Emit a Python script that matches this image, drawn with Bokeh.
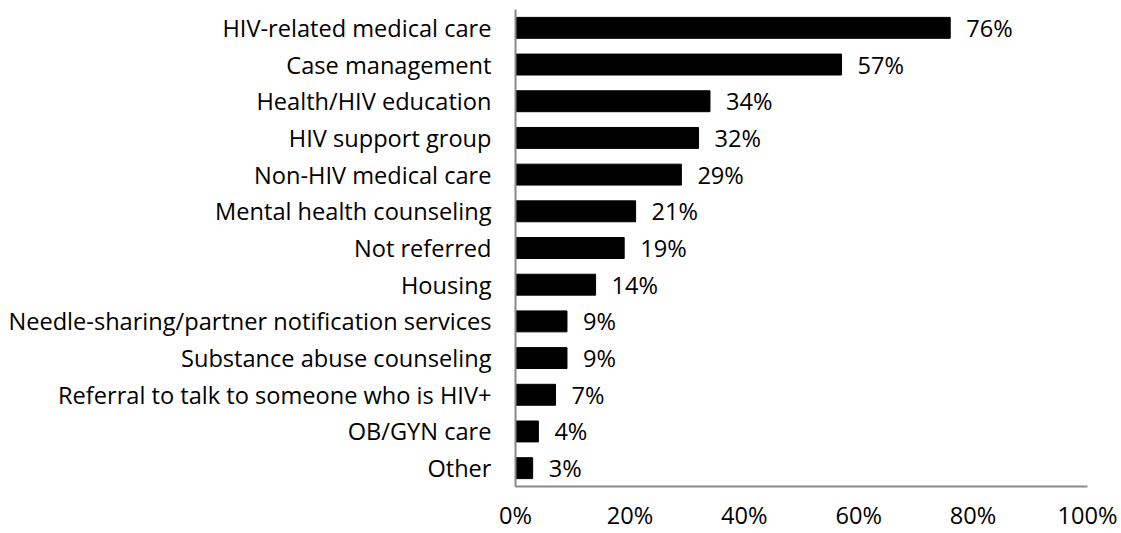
from bokeh.plotting import figure
from bokeh.models import FactorRange, Range1d, NumeralTickFormatter, FixedTicker, ColumnDataSource
from bokeh.core.properties import value
from bokeh.embed import file_html
from bokeh.resources import INLINE

categories = [
    "HIV-related medical care",
    "Case management",
    "Health/HIV education",
    "HIV support group",
    "Non-HIV medical care",
    "Mental health counseling",
    "Not referred",
    "Housing",
    "Needle-sharing/partner notification services",
    "Substance abuse counseling",
    "Referral to talk to someone who is HIV+",
    "OB/GYN care",
    "Other",
]
values = [0.76, 0.57, 0.34, 0.32, 0.29, 0.21, 0.19, 0.14, 0.09, 0.09, 0.07, 0.04, 0.03]
value_labels = ["76%", "57%", "34%", "32%", "29%", "21%", "19%", "14%", "9%", "9%", "7%", "4%", "3%"]
x_ticks = [0, 0.2, 0.4, 0.6, 0.8, 1.0]

FONT = "Open Sans"
FS = "23.6px"

src = ColumnDataSource(dict(cat=categories, val=values, lab=value_labels))

p = figure(
    width=1121, height=533,
    y_range=FactorRange(factors=list(reversed(categories)), range_padding=0),
    x_range=Range1d(0, 1),
    output_backend="svg", toolbar_location=None,
    min_border_left=515, min_border_right=34, min_border_top=9, min_border_bottom=44,
    outline_line_color=None,
)

p.hbar(y="cat", right="val", left=0, height=0.57, source=src,
       fill_color="black", line_color="black")
p.text(x="val", y="cat", text="lab", source=src, x_offset=16,
       text_baseline="middle", text_align="left",
       text_font=value(FONT), text_font_size=FS, text_color="black")

p.xgrid.grid_line_color = None
p.ygrid.grid_line_color = None

p.xaxis.ticker = FixedTicker(ticks=x_ticks)
p.xaxis.formatter = NumeralTickFormatter(format="0%")
for ax in (p.xaxis, p.yaxis):
    ax.axis_line_color = "#898989"
    ax.axis_line_width = 2
    ax.major_tick_line_color = None
    ax.minor_tick_line_color = None
    ax.major_tick_out = 0
    ax.major_tick_in = 0
    ax.major_label_text_font = FONT
    ax.major_label_text_font_size = FS
    ax.major_label_text_color = "black"
p.xaxis.major_label_standoff = 12
p.yaxis.major_label_standoff = 24

open("out.html", "w").write(file_html(p, INLINE))
